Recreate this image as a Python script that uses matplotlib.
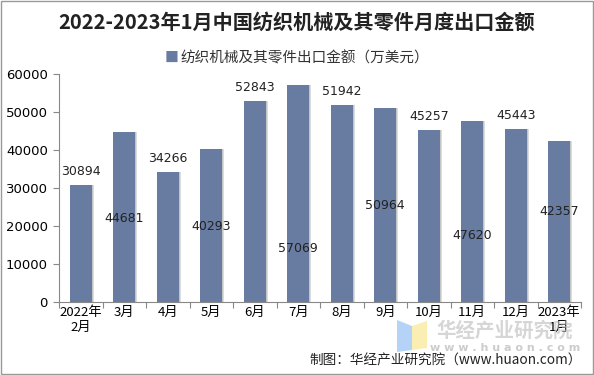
import matplotlib
matplotlib.use("Agg")
import matplotlib.pyplot as plt
import numpy as np

plt.rcParams["font.family"] = ["Noto Sans CJK SC", "DejaVu Sans"]

#%% Data
months = ["2022年\n2月", "3月", "4月", "5月", "6月", "7月", "8月", "9月",
          "10月", "11月", "12月", "2023年\n1月"]
values = [30894, 44681, 34266, 40293, 52843, 57069, 51942, 50964,
          45257, 47620, 45443, 42357]
series_name = "纺织机械及其零件出口金额（万美元）"

# label inside bar (True) or above (False), with height used for inside ones
inside = [False, True, False, True, False, True, False, True, False, True, False, True]
inside_y = [0, 22000, 0, 20000, 0, 14000, 0, 25500, 0, 17600, 0, 23700]

#%% Plot
fig = plt.figure(figsize=(5.94, 3.75), dpi=100)
ax = fig.add_axes([59 / 594, 1 - 302 / 375, 522 / 594, 228 / 375])

x = np.arange(len(months))
color = "#687ba0"
# soft shadow on right
ax.bar(x + 0.05, values, width=0.5, color="#dcdcdc", zorder=1)
ax.bar(x + 0.025, values, width=0.5, color="#c4c4c4", zorder=1)
ax.bar(x, values, width=0.5, color=color, zorder=2)

for i, v in enumerate(values):
    if inside[i]:
        ax.text(i, inside_y[i], str(v), ha="center", va="center", fontsize=9,
                color="#222222", zorder=3, family="DejaVu Sans")
    else:
        ax.text(i, v + 1800, str(v), ha="center", va="bottom", fontsize=9,
                color="#222222", zorder=3, family="DejaVu Sans")

ax.set_xlim(-0.5, len(months) - 0.5)
ax.set_ylim(0, 60000)
ax.set_yticks(np.arange(0, 60001, 10000))
ax.set_yticklabels([str(t) for t in range(0, 60001, 10000)], family="DejaVu Sans", fontsize=9.5)
ax.set_xticks(np.arange(-0.5, len(months), 1))
ax.set_xticklabels([])
ax.set_xticks(x, minor=True)
ax.set_xticklabels(months, minor=True, fontsize=9.5)
ax.tick_params(axis="x", which="minor", length=0, pad=3)
ax.tick_params(axis="x", which="major", direction="out", length=4, color="#888888")
ax.tick_params(axis="y", length=4, color="#888888", pad=4)
for s in ["top", "right"]:
    ax.spines[s].set_visible(False)
for s in ["left", "bottom"]:
    ax.spines[s].set_color("#888888")

# legend
fig.text(178 / 594, 1 - 58 / 375, "■", color=color, fontsize=10, ha="right", va="center")
fig.text(180 / 594, 1 - 58 / 375, series_name, fontsize=10.5, ha="left", va="center",
         color="#333333")

fig.text(0.5, 1 - 22 / 375, "2022-2023年1月中国纺织机械及其零件月度出口金额",
         fontsize=14.5, fontweight="bold", ha="center", va="center", color="#222222")

# watermark logo + text
W, H = 594, 375
blue = plt.Polygon([(397 / W, 1 - 320 / H), (412 / W, 1 - 326 / H), (412 / W, 1 - 350 / H),
                    (397 / W, 1 - 352 / H)], closed=True, transform=fig.transFigure,
                   facecolor="#9cc3f5", alpha=0.75, edgecolor="none", zorder=0)
yellow = plt.Polygon([(412 / W, 1 - 326 / H), (427 / W, 1 - 321 / H), (427 / W, 1 - 348 / H),
                      (412 / W, 1 - 350 / H)], closed=True, transform=fig.transFigure,
                     facecolor="#fbeaa0", alpha=0.8, edgecolor="none", zorder=0)
fig.patches.extend([blue, yellow])
fig.text(505 / W, 1 - 331 / H, "华经产业研究院", fontsize=14, ha="center", va="center",
         color="#bbbbbb", alpha=0.6, fontweight="bold", zorder=0)
fig.text(505 / W, 1 - 348 / H, "w w w . h u a o n . c o m", fontsize=8, ha="center",
         va="center", color="#cccccc", family="DejaVu Sans", fontweight="bold", zorder=0)

fig.text(582 / W, 1 - 361 / H, "制图：华经产业研究院（www.huaon.com）", fontsize=9.8,
         ha="right", va="center", color="#222222")

# border
fig.patches.append(plt.Rectangle((0.002, 0.003), 0.996, 0.994, transform=fig.transFigure,
                                 fill=False, edgecolor="#999999", linewidth=1))

fig.savefig("out.png", dpi=100)
